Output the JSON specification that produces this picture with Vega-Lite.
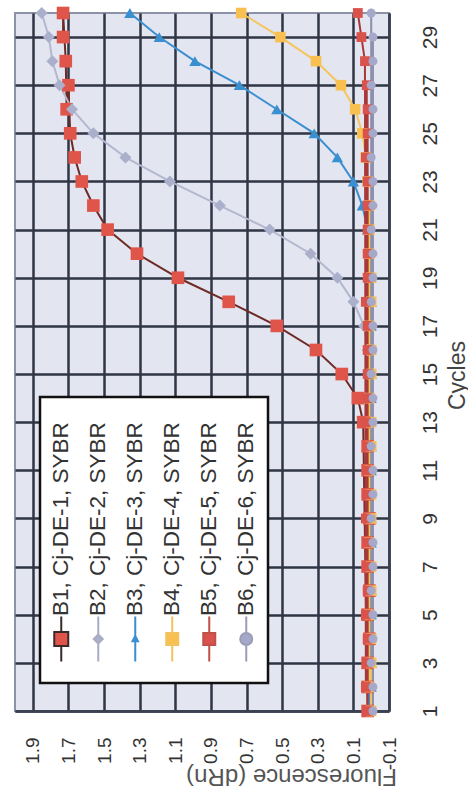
{
  "$schema": "https://vega.github.io/schema/vega-lite/v6.json",
  "width": 374,
  "height": 698,
  "autosize": {"type": "none"},
  "padding": {"left": 15, "top": 13, "right": 79, "bottom": 85},
  "background": "white",
  "config": {
    "font": "Liberation Sans",
    "view": {"fill": "#e3e5f1", "stroke": "#8c92a8", "strokeWidth": 2}
  },
  "data": {"values": [
    {"series":"B1, Cj-DE-1, SYBR","cycle":1,"dRn":0.02},{"series":"B1, Cj-DE-1, SYBR","cycle":2,"dRn":0.02},{"series":"B1, Cj-DE-1, SYBR","cycle":3,"dRn":0.02},{"series":"B1, Cj-DE-1, SYBR","cycle":4,"dRn":0.01},{"series":"B1, Cj-DE-1, SYBR","cycle":5,"dRn":0.02},{"series":"B1, Cj-DE-1, SYBR","cycle":6,"dRn":0.01},{"series":"B1, Cj-DE-1, SYBR","cycle":7,"dRn":0.02},{"series":"B1, Cj-DE-1, SYBR","cycle":8,"dRn":0.02},{"series":"B1, Cj-DE-1, SYBR","cycle":9,"dRn":0.01},{"series":"B1, Cj-DE-1, SYBR","cycle":10,"dRn":0.02},
    {"series":"B1, Cj-DE-1, SYBR","cycle":11,"dRn":0.02},{"series":"B1, Cj-DE-1, SYBR","cycle":12,"dRn":0.02},{"series":"B1, Cj-DE-1, SYBR","cycle":13,"dRn":0.045},{"series":"B1, Cj-DE-1, SYBR","cycle":14,"dRn":0.075},{"series":"B1, Cj-DE-1, SYBR","cycle":15,"dRn":0.165},{"series":"B1, Cj-DE-1, SYBR","cycle":16,"dRn":0.31},{"series":"B1, Cj-DE-1, SYBR","cycle":17,"dRn":0.53},{"series":"B1, Cj-DE-1, SYBR","cycle":18,"dRn":0.8},{"series":"B1, Cj-DE-1, SYBR","cycle":19,"dRn":1.085},{"series":"B1, Cj-DE-1, SYBR","cycle":20,"dRn":1.315},
    {"series":"B1, Cj-DE-1, SYBR","cycle":21,"dRn":1.48},{"series":"B1, Cj-DE-1, SYBR","cycle":22,"dRn":1.56},{"series":"B1, Cj-DE-1, SYBR","cycle":23,"dRn":1.625},{"series":"B1, Cj-DE-1, SYBR","cycle":24,"dRn":1.665},{"series":"B1, Cj-DE-1, SYBR","cycle":25,"dRn":1.69},{"series":"B1, Cj-DE-1, SYBR","cycle":26,"dRn":1.71},{"series":"B1, Cj-DE-1, SYBR","cycle":27,"dRn":1.7},{"series":"B1, Cj-DE-1, SYBR","cycle":28,"dRn":1.715},{"series":"B1, Cj-DE-1, SYBR","cycle":29,"dRn":1.73},{"series":"B1, Cj-DE-1, SYBR","cycle":30,"dRn":1.73},

    {"series":"B2, Cj-DE-2, SYBR","cycle":1,"dRn":0.0},{"series":"B2, Cj-DE-2, SYBR","cycle":2,"dRn":0.0},{"series":"B2, Cj-DE-2, SYBR","cycle":3,"dRn":0.01},{"series":"B2, Cj-DE-2, SYBR","cycle":4,"dRn":0.0},{"series":"B2, Cj-DE-2, SYBR","cycle":5,"dRn":0.0},{"series":"B2, Cj-DE-2, SYBR","cycle":6,"dRn":0.01},{"series":"B2, Cj-DE-2, SYBR","cycle":7,"dRn":0.0},{"series":"B2, Cj-DE-2, SYBR","cycle":8,"dRn":0.0},{"series":"B2, Cj-DE-2, SYBR","cycle":9,"dRn":0.01},{"series":"B2, Cj-DE-2, SYBR","cycle":10,"dRn":0.0},
    {"series":"B2, Cj-DE-2, SYBR","cycle":11,"dRn":0.0},{"series":"B2, Cj-DE-2, SYBR","cycle":12,"dRn":0.01},{"series":"B2, Cj-DE-2, SYBR","cycle":13,"dRn":0.0},{"series":"B2, Cj-DE-2, SYBR","cycle":14,"dRn":0.01},{"series":"B2, Cj-DE-2, SYBR","cycle":15,"dRn":0.01},{"series":"B2, Cj-DE-2, SYBR","cycle":16,"dRn":0.02},{"series":"B2, Cj-DE-2, SYBR","cycle":17,"dRn":0.04},{"series":"B2, Cj-DE-2, SYBR","cycle":18,"dRn":0.1},{"series":"B2, Cj-DE-2, SYBR","cycle":19,"dRn":0.19},{"series":"B2, Cj-DE-2, SYBR","cycle":20,"dRn":0.34},
    {"series":"B2, Cj-DE-2, SYBR","cycle":21,"dRn":0.57},{"series":"B2, Cj-DE-2, SYBR","cycle":22,"dRn":0.85},{"series":"B2, Cj-DE-2, SYBR","cycle":23,"dRn":1.13},{"series":"B2, Cj-DE-2, SYBR","cycle":24,"dRn":1.38},{"series":"B2, Cj-DE-2, SYBR","cycle":25,"dRn":1.56},{"series":"B2, Cj-DE-2, SYBR","cycle":26,"dRn":1.68},{"series":"B2, Cj-DE-2, SYBR","cycle":27,"dRn":1.75},{"series":"B2, Cj-DE-2, SYBR","cycle":28,"dRn":1.79},{"series":"B2, Cj-DE-2, SYBR","cycle":29,"dRn":1.81},{"series":"B2, Cj-DE-2, SYBR","cycle":30,"dRn":1.85},

    {"series":"B3, Cj-DE-3, SYBR","cycle":1,"dRn":0.01},{"series":"B3, Cj-DE-3, SYBR","cycle":2,"dRn":0.0},{"series":"B3, Cj-DE-3, SYBR","cycle":3,"dRn":0.0},{"series":"B3, Cj-DE-3, SYBR","cycle":4,"dRn":0.01},{"series":"B3, Cj-DE-3, SYBR","cycle":5,"dRn":0.0},{"series":"B3, Cj-DE-3, SYBR","cycle":6,"dRn":0.0},{"series":"B3, Cj-DE-3, SYBR","cycle":7,"dRn":0.01},{"series":"B3, Cj-DE-3, SYBR","cycle":8,"dRn":0.0},{"series":"B3, Cj-DE-3, SYBR","cycle":9,"dRn":0.0},{"series":"B3, Cj-DE-3, SYBR","cycle":10,"dRn":0.01},
    {"series":"B3, Cj-DE-3, SYBR","cycle":11,"dRn":0.0},{"series":"B3, Cj-DE-3, SYBR","cycle":12,"dRn":0.0},{"series":"B3, Cj-DE-3, SYBR","cycle":13,"dRn":0.01},{"series":"B3, Cj-DE-3, SYBR","cycle":14,"dRn":0.0},{"series":"B3, Cj-DE-3, SYBR","cycle":15,"dRn":0.0},{"series":"B3, Cj-DE-3, SYBR","cycle":16,"dRn":0.01},{"series":"B3, Cj-DE-3, SYBR","cycle":17,"dRn":0.0},{"series":"B3, Cj-DE-3, SYBR","cycle":18,"dRn":0.0},{"series":"B3, Cj-DE-3, SYBR","cycle":19,"dRn":0.01},{"series":"B3, Cj-DE-3, SYBR","cycle":20,"dRn":0.01},
    {"series":"B3, Cj-DE-3, SYBR","cycle":21,"dRn":0.02},{"series":"B3, Cj-DE-3, SYBR","cycle":22,"dRn":0.05},{"series":"B3, Cj-DE-3, SYBR","cycle":23,"dRn":0.1},{"series":"B3, Cj-DE-3, SYBR","cycle":24,"dRn":0.19},{"series":"B3, Cj-DE-3, SYBR","cycle":25,"dRn":0.32},{"series":"B3, Cj-DE-3, SYBR","cycle":26,"dRn":0.53},{"series":"B3, Cj-DE-3, SYBR","cycle":27,"dRn":0.74},{"series":"B3, Cj-DE-3, SYBR","cycle":28,"dRn":0.99},{"series":"B3, Cj-DE-3, SYBR","cycle":29,"dRn":1.19},{"series":"B3, Cj-DE-3, SYBR","cycle":30,"dRn":1.355},

    {"series":"B4, Cj-DE-4, SYBR","cycle":1,"dRn":0.0},{"series":"B4, Cj-DE-4, SYBR","cycle":2,"dRn":0.01},{"series":"B4, Cj-DE-4, SYBR","cycle":3,"dRn":0.0},{"series":"B4, Cj-DE-4, SYBR","cycle":4,"dRn":0.0},{"series":"B4, Cj-DE-4, SYBR","cycle":5,"dRn":0.01},{"series":"B4, Cj-DE-4, SYBR","cycle":6,"dRn":0.0},{"series":"B4, Cj-DE-4, SYBR","cycle":7,"dRn":0.0},{"series":"B4, Cj-DE-4, SYBR","cycle":8,"dRn":0.01},{"series":"B4, Cj-DE-4, SYBR","cycle":9,"dRn":0.0},{"series":"B4, Cj-DE-4, SYBR","cycle":10,"dRn":0.0},
    {"series":"B4, Cj-DE-4, SYBR","cycle":11,"dRn":0.01},{"series":"B4, Cj-DE-4, SYBR","cycle":12,"dRn":0.0},{"series":"B4, Cj-DE-4, SYBR","cycle":13,"dRn":0.0},{"series":"B4, Cj-DE-4, SYBR","cycle":14,"dRn":0.01},{"series":"B4, Cj-DE-4, SYBR","cycle":15,"dRn":0.0},{"series":"B4, Cj-DE-4, SYBR","cycle":16,"dRn":0.0},{"series":"B4, Cj-DE-4, SYBR","cycle":17,"dRn":0.01},{"series":"B4, Cj-DE-4, SYBR","cycle":18,"dRn":0.0},{"series":"B4, Cj-DE-4, SYBR","cycle":19,"dRn":0.0},{"series":"B4, Cj-DE-4, SYBR","cycle":20,"dRn":0.01},
    {"series":"B4, Cj-DE-4, SYBR","cycle":21,"dRn":0.01},{"series":"B4, Cj-DE-4, SYBR","cycle":22,"dRn":0.01},{"series":"B4, Cj-DE-4, SYBR","cycle":23,"dRn":0.02},{"series":"B4, Cj-DE-4, SYBR","cycle":24,"dRn":0.03},{"series":"B4, Cj-DE-4, SYBR","cycle":25,"dRn":0.05},{"series":"B4, Cj-DE-4, SYBR","cycle":26,"dRn":0.09},{"series":"B4, Cj-DE-4, SYBR","cycle":27,"dRn":0.17},{"series":"B4, Cj-DE-4, SYBR","cycle":28,"dRn":0.31},{"series":"B4, Cj-DE-4, SYBR","cycle":29,"dRn":0.51},{"series":"B4, Cj-DE-4, SYBR","cycle":30,"dRn":0.73},

    {"series":"B5, Cj-DE-5, SYBR","cycle":1,"dRn":0.02},{"series":"B5, Cj-DE-5, SYBR","cycle":2,"dRn":0.03},{"series":"B5, Cj-DE-5, SYBR","cycle":3,"dRn":0.02},{"series":"B5, Cj-DE-5, SYBR","cycle":4,"dRn":0.02},{"series":"B5, Cj-DE-5, SYBR","cycle":5,"dRn":0.03},{"series":"B5, Cj-DE-5, SYBR","cycle":6,"dRn":0.02},{"series":"B5, Cj-DE-5, SYBR","cycle":7,"dRn":0.02},{"series":"B5, Cj-DE-5, SYBR","cycle":8,"dRn":0.02},{"series":"B5, Cj-DE-5, SYBR","cycle":9,"dRn":0.03},{"series":"B5, Cj-DE-5, SYBR","cycle":10,"dRn":0.02},
    {"series":"B5, Cj-DE-5, SYBR","cycle":11,"dRn":0.02},{"series":"B5, Cj-DE-5, SYBR","cycle":12,"dRn":0.02},{"series":"B5, Cj-DE-5, SYBR","cycle":13,"dRn":0.03},{"series":"B5, Cj-DE-5, SYBR","cycle":14,"dRn":0.02},{"series":"B5, Cj-DE-5, SYBR","cycle":15,"dRn":0.02},{"series":"B5, Cj-DE-5, SYBR","cycle":16,"dRn":0.02},{"series":"B5, Cj-DE-5, SYBR","cycle":17,"dRn":0.02},{"series":"B5, Cj-DE-5, SYBR","cycle":18,"dRn":0.03},{"series":"B5, Cj-DE-5, SYBR","cycle":19,"dRn":0.02},{"series":"B5, Cj-DE-5, SYBR","cycle":20,"dRn":0.02},
    {"series":"B5, Cj-DE-5, SYBR","cycle":21,"dRn":0.02},{"series":"B5, Cj-DE-5, SYBR","cycle":22,"dRn":0.02},{"series":"B5, Cj-DE-5, SYBR","cycle":23,"dRn":0.02},{"series":"B5, Cj-DE-5, SYBR","cycle":24,"dRn":0.03},{"series":"B5, Cj-DE-5, SYBR","cycle":25,"dRn":0.02},{"series":"B5, Cj-DE-5, SYBR","cycle":26,"dRn":0.02},{"series":"B5, Cj-DE-5, SYBR","cycle":27,"dRn":0.025},{"series":"B5, Cj-DE-5, SYBR","cycle":28,"dRn":0.035},{"series":"B5, Cj-DE-5, SYBR","cycle":29,"dRn":0.055},{"series":"B5, Cj-DE-5, SYBR","cycle":30,"dRn":0.075},

    {"series":"B6, Cj-DE-6, SYBR","cycle":1,"dRn":-0.01},{"series":"B6, Cj-DE-6, SYBR","cycle":2,"dRn":-0.01},{"series":"B6, Cj-DE-6, SYBR","cycle":3,"dRn":0.0},{"series":"B6, Cj-DE-6, SYBR","cycle":4,"dRn":-0.01},{"series":"B6, Cj-DE-6, SYBR","cycle":5,"dRn":-0.01},{"series":"B6, Cj-DE-6, SYBR","cycle":6,"dRn":0.0},{"series":"B6, Cj-DE-6, SYBR","cycle":7,"dRn":-0.01},{"series":"B6, Cj-DE-6, SYBR","cycle":8,"dRn":-0.01},{"series":"B6, Cj-DE-6, SYBR","cycle":9,"dRn":0.0},{"series":"B6, Cj-DE-6, SYBR","cycle":10,"dRn":-0.01},
    {"series":"B6, Cj-DE-6, SYBR","cycle":11,"dRn":-0.01},{"series":"B6, Cj-DE-6, SYBR","cycle":12,"dRn":0.0},{"series":"B6, Cj-DE-6, SYBR","cycle":13,"dRn":-0.01},{"series":"B6, Cj-DE-6, SYBR","cycle":14,"dRn":-0.01},{"series":"B6, Cj-DE-6, SYBR","cycle":15,"dRn":0.0},{"series":"B6, Cj-DE-6, SYBR","cycle":16,"dRn":-0.01},{"series":"B6, Cj-DE-6, SYBR","cycle":17,"dRn":-0.01},{"series":"B6, Cj-DE-6, SYBR","cycle":18,"dRn":0.0},{"series":"B6, Cj-DE-6, SYBR","cycle":19,"dRn":-0.01},{"series":"B6, Cj-DE-6, SYBR","cycle":20,"dRn":-0.01},
    {"series":"B6, Cj-DE-6, SYBR","cycle":21,"dRn":0.0},{"series":"B6, Cj-DE-6, SYBR","cycle":22,"dRn":-0.01},{"series":"B6, Cj-DE-6, SYBR","cycle":23,"dRn":-0.01},{"series":"B6, Cj-DE-6, SYBR","cycle":24,"dRn":0.0},{"series":"B6, Cj-DE-6, SYBR","cycle":25,"dRn":-0.01},{"series":"B6, Cj-DE-6, SYBR","cycle":26,"dRn":-0.01},{"series":"B6, Cj-DE-6, SYBR","cycle":27,"dRn":0.0},{"series":"B6, Cj-DE-6, SYBR","cycle":28,"dRn":-0.01},{"series":"B6, Cj-DE-6, SYBR","cycle":29,"dRn":-0.01},{"series":"B6, Cj-DE-6, SYBR","cycle":30,"dRn":0.0}
  ]},
  "encoding": {
    "x": {
      "field": "dRn", "type": "quantitative",
      "scale": {"domain": [-0.1, 2.0], "reverse": true, "nice": false, "zero": false},
      "axis": {
        "orient": "bottom",
        "values": [-0.1, 0.1, 0.3, 0.5, 0.7, 0.9, 1.1, 1.3, 1.5, 1.7, 1.9],
        "labelExpr": "datum.value < 0 ? '-' + format(-datum.value, '.1f') : format(datum.value, '.1f')",
        "labelAngle": 270, "labelAlign": "right", "labelBaseline": "middle",
        "labelPadding": 26, "labelFontSize": 19, "labelColor": "#333333", "labelOverlap": false,
        "ticks": false, "tickSize": 0,
        "domain": true, "domainColor": "#3a4050", "domainWidth": 2.5,
        "grid": true, "gridColor": "#2f3545", "gridWidth": 2.5, "gridOpacity": 1,
        "title": "Fluorescence (dRn)", "titleAngle": 180, "titleX": 276, "titleY": 64,
        "titleAlign": "center", "titleBaseline": "middle",
        "titleFontSize": 24, "titleFontWeight": "normal", "titleColor": "#555555"
      }
    },
    "y": {
      "field": "cycle", "type": "quantitative",
      "scale": {"domain": [1, 30], "nice": false, "zero": false},
      "axis": {
        "orient": "right",
        "values": [1, 3, 5, 7, 9, 11, 13, 15, 17, 19, 21, 23, 25, 27, 29],
        "format": "d",
        "labelAngle": 270, "labelAlign": "center", "labelBaseline": "middle",
        "labelPadding": 41, "labelFontSize": 21, "labelColor": "#333333", "labelOverlap": false,
        "ticks": false, "tickSize": 0,
        "domain": true, "domainColor": "#3a4050", "domainWidth": 2.5,
        "grid": true, "gridColor": "#2f3545", "gridWidth": 2.5, "gridOpacity": 1,
        "title": "Cycles", "titleAngle": 270, "titleX": 68, "titleY": 362,
        "titleAlign": "center", "titleBaseline": "middle",
        "titleFontSize": 23, "titleFontWeight": "normal", "titleColor": "#444444"
      }
    }
  },
  "layer": [
    {
      "mark": {"type": "line", "strokeWidth": 2},
      "encoding": {
        "stroke": {
          "field": "series", "type": "nominal", "legend": null,
          "scale": {"range": ["#6e2a24", "#b4b8cf", "#3a8fd0", "#f5c65e", "#a83838", "#8d90ab"]}
        }
      }
    },
    {
      "mark": {"type": "point", "filled": true, "opacity": 1},
      "encoding": {
        "fill": {
          "field": "series", "type": "nominal",
          "scale": {
            "domain": ["B1, Cj-DE-1, SYBR", "B2, Cj-DE-2, SYBR", "B3, Cj-DE-3, SYBR", "B4, Cj-DE-4, SYBR", "B5, Cj-DE-5, SYBR", "B6, Cj-DE-6, SYBR"],
            "range": ["#e0554a", "#aab0cc", "#3a8fd0", "#f8c050", "#d9534c", "#a5a8c8"]
          },
          "legend": {
            "orient": "none", "legendX": 25, "legendY": 384,
            "direction": "horizontal", "columns": 6, "title": null,
            "padding": 10, "fillColor": "white", "strokeColor": "#111111",
            "symbolSize": 100, "symbolStrokeWidth": 2, "symbolOpacity": 1,
            "labelFont": "Liberation Sans", "labelFontSize": 22.5, "labelColor": "#333333",
            "labelLimit": 0, "labelOffset": -11.25, "columnPadding": 14,
            "labelAlign": "left", "labelBaseline": "middle",
            "encode": {
              "labels": {"update": {"angle": {"value": 270}, "dx": {"value": 23}, "y": {"value": 232}}},
              "symbols": {"update": {
                "y": {"value": 232},
                "shape": {"signal": "['M0,6M0,-4.5V-1.4M0,1.4V4.5M-1.4,-1.4H1.4V1.4H-1.4Z', 'M0,6M0,-4.5V-0.9M0,0.9V4.5M0,-0.9L0.9,0L0,0.9L-0.9,0Z', 'M0,6M0,-4.5V4.5M0,-0.6L0.55,0.45L-0.55,0.45Z', 'M0,6M0,-4.5V-1.2M0,1.2V4.5M-1.2,-1.2H1.2V1.2H-1.2Z', 'M0,6M0,-4.5V-1.2M0,1.2V4.5M-1.2,-1.2H1.2V1.2H-1.2Z', 'M0,6M0,-4.5V-1.2M0,1.2V4.5M-1.2,0A1.2,1.2 0 1,0 1.2,0A1.2,1.2 0 1,0 -1.2,0Z'][datum.index]"},
                "stroke": {"signal": "['#3a2a2a', '#a9adc4', '#3a8fd0', '#f2c25c', '#c0504a', '#9a9cb8'][datum.index]"}
              }},
              "legend": {"update": {"strokeWidth": {"value": 2.5}}}
            }
          }
        },
        "shape": {
          "field": "series", "type": "nominal", "legend": null,
          "scale": {"range": ["square", "diamond", "triangle-up", "square", "square", "circle"]}
        },
        "size": {
          "field": "series", "type": "nominal", "legend": null,
          "scale": {"range": [160, 80, 25, 120, 100, 110]}
        }
      }
    }
  ]
}
